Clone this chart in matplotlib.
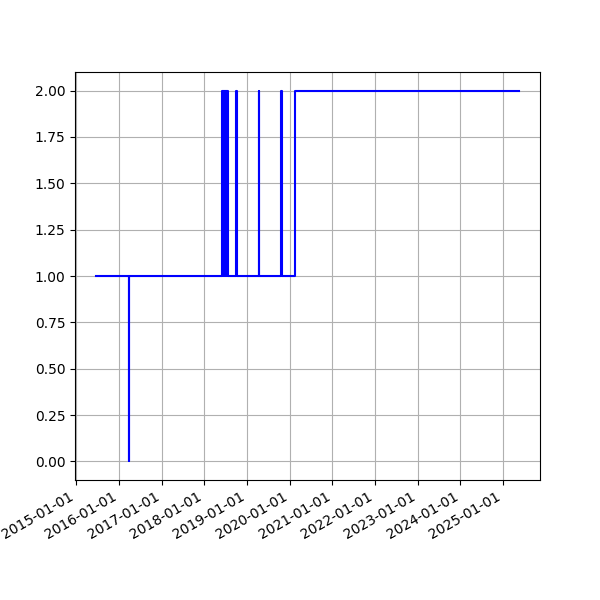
import pandas as pd
import matplotlib
matplotlib.use('Agg')
import matplotlib.pyplot as plt
import matplotlib.dates as mdates

# change points (value holds until the next date)
dates = ['2015-06-20', '2016-03-24', '2016-03-26',
         '2018-06-03', '2018-06-07', '2018-06-10', '2018-06-14', '2018-06-18',
         '2018-06-23', '2018-06-27', '2018-07-02', '2018-07-07', '2018-07-12',
         '2018-07-17', '2018-07-22', '2018-07-25',
         '2018-10-01', '2018-10-03',
         '2019-04-11', '2019-04-13',
         '2019-10-22', '2019-10-24',
         '2020-02-16', '2025-05-15']
values = [1, 0, 1,
          2, 1, 2, 1, 2,
          1, 2, 1, 2, 1,
          2, 1, 1,
          2, 1,
          2, 1,
          2, 1,
          2, 2]

data = pd.DataFrame({'date': pd.to_datetime(dates), 'value': values})

fig, ax = plt.subplots(figsize=(6, 6), dpi=100)
ax.plot(data['date'], data['value'], color='blue', drawstyle='steps-post')
ax.xaxis.set_major_locator(mdates.YearLocator())
ax.xaxis.set_major_formatter(mdates.DateFormatter('%Y-%m-%d'))
ax.yaxis.set_major_formatter(plt.FormatStrFormatter('%.2f'))
ax.grid(True)
fig.autofmt_xdate()

plt.savefig('out.png')
